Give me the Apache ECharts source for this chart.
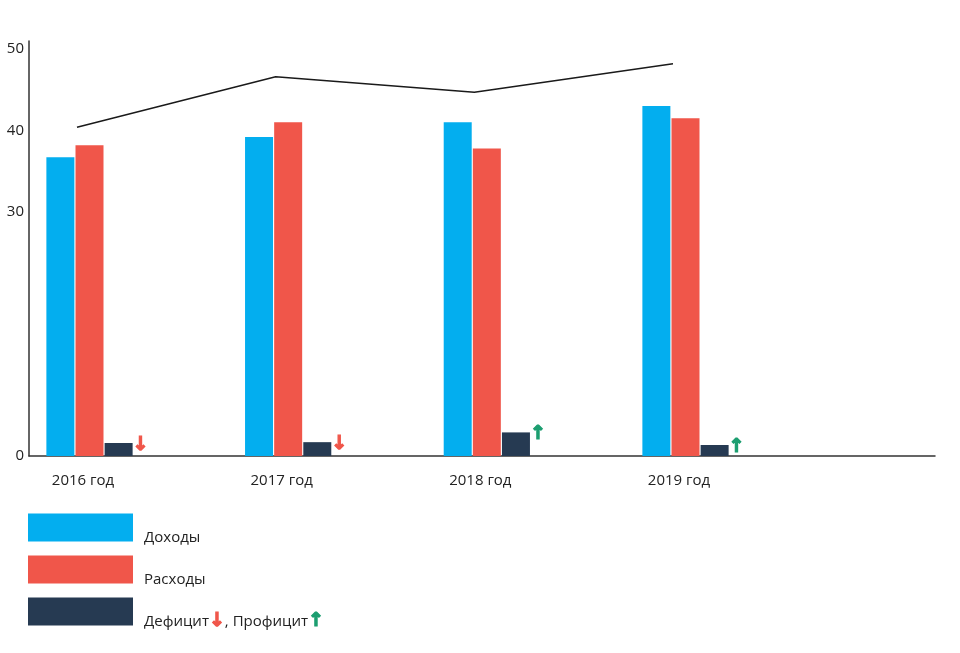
<!DOCTYPE html>
<html>
<head>
<meta charset="utf-8">
<script src="https://cdn.jsdelivr.net/npm/echarts@6/dist/echarts.min.js"></script>
<style>html,body{margin:0;padding:0;background:#fff;}#c{width:960px;height:653px;}</style>
</head>
<body>
<div id="c"></div>
<script>
const categories = ['2016 год', '2017 год', '2018 год', '2019 год'];
const income = [36.7, 39.2, 41.0, 43.0];
const expense = [38.2, 41.0, 37.8, 41.5];
const balance = [1.6, 1.7, 2.9, 1.35];
const lineValues = [40.4, 46.6, 44.7, 48.2];
const yTickLabels = [0, 30, 40, 50];
const seriesNames = ['Доходы', 'Расходы', 'Дефицит/Профицит'];

const C_BLUE = '#03aeef', C_RED = '#f0564a', C_DARK = '#263a52', C_GREEN = '#1c9e70';
const FONT = 'Open Sans';
const TOP = 41, BOTTOM = 197, YMAX = 51;

const arrowRich = {
  down: {color: C_RED, fontSize: 19, fontWeight: 'bold', fontFamily: 'DejaVu Sans', textBorderColor: C_RED, textBorderWidth: 1.2},
  up: {color: C_GREEN, fontSize: 19, fontWeight: 'bold', fontFamily: 'DejaVu Sans', textBorderColor: C_GREEN, textBorderWidth: 1.2}
};

const chart = echarts.init(document.getElementById('c'), null, {renderer: 'canvas'});
chart.setOption({
  animation: false,
  backgroundColor: '#fff',
  textStyle: {fontFamily: FONT},
  grid: [
    {left: 29, right: 25, top: TOP, bottom: BOTTOM},
    {left: 89.5, width: 596, top: TOP, bottom: BOTTOM},
    {left: 77, width: 596, top: TOP, bottom: BOTTOM}
  ],
  xAxis: [
    {gridIndex: 0, type: 'value', min: 0, max: 1, axisLabel: {show: false}, axisTick: {show: false}, splitLine: {show: false},
     axisLine: {show: true, lineStyle: {color: '#333', width: 1.5}}},
    {gridIndex: 1, type: 'category', boundaryGap: false, data: categories, axisLine: {show: false}, axisTick: {show: false},
     axisLabel: {margin: 17, color: '#222', fontSize: 15, fontFamily: FONT, padding: [0, 13, 0, 0]}},
    {gridIndex: 2, type: 'category', boundaryGap: false, data: categories, show: false}
  ],
  yAxis: [
    {gridIndex: 0, type: 'value', min: 0, max: YMAX, splitLine: {show: false}, axisTick: {show: false},
     axisLine: {show: true, lineStyle: {color: '#333', width: 1.5}},
     axisLabel: {customValues: yTickLabels, color: '#222', fontSize: 15, fontFamily: FONT, margin: 5, padding: [0, 0, 6, 0]}},
    {gridIndex: 1, type: 'value', min: 0, max: YMAX, show: false},
    {gridIndex: 2, type: 'value', min: 0, max: YMAX, show: false}
  ],
  legend: {
    orient: 'vertical', left: 28, top: 512.5, padding: 0, height: 135,
    itemWidth: 105, itemHeight: 28, itemGap: 9.5, icon: 'rect',
    data: seriesNames,
    formatter: function (name) {
      return name === seriesNames[2] ? 'Дефицит{down|↓}, Профицит{up|↑}' : name;
    },
    textStyle: {
      color: '#222', fontSize: 15, fontFamily: FONT, lineHeight: 10, padding: [20, 0, 0, 6],
      rich: {
        down: Object.assign({lineHeight: 10}, arrowRich.down),
        up: Object.assign({lineHeight: 10}, arrowRich.up)
      }
    }
  },
  series: [
    {name: seriesNames[0], type: 'bar', xAxisIndex: 1, yAxisIndex: 1, data: income, barWidth: 28, barGap: '4%', itemStyle: {color: C_BLUE}},
    {name: seriesNames[1], type: 'bar', xAxisIndex: 1, yAxisIndex: 1, data: expense, barWidth: 28, barGap: '4%', itemStyle: {color: C_RED}},
    {name: seriesNames[2], type: 'bar', xAxisIndex: 1, yAxisIndex: 1, data: balance, barWidth: 28, barGap: '4%', itemStyle: {color: C_DARK},
     label: {
       show: true, position: ['100%', 0], align: 'left', verticalAlign: 'middle', offset: [0, 2],
       formatter: function (p) { return income[p.dataIndex] > expense[p.dataIndex] ? '{up|↑}' : '{down|↓}'; },
       rich: arrowRich
     }},
    {name: 'line', type: 'line', xAxisIndex: 2, yAxisIndex: 2, data: lineValues, symbol: 'none',
     lineStyle: {color: '#1a1a1a', width: 1.5}}
  ]
});
</script>
</body>
</html>
